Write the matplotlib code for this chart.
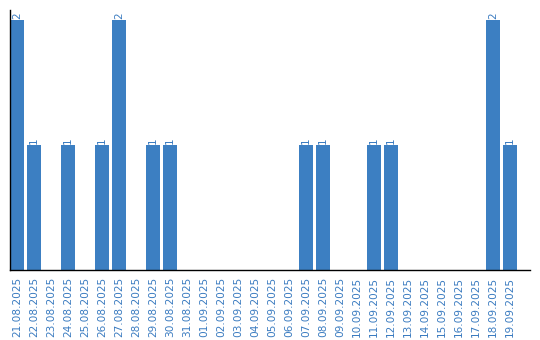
import matplotlib
matplotlib.use("Agg")
import matplotlib.pyplot as plt

dates = ["21.08.2025","22.08.2025","23.08.2025","24.08.2025","25.08.2025","26.08.2025",
         "27.08.2025","28.08.2025","29.08.2025","30.08.2025","31.08.2025","01.09.2025",
         "02.09.2025","03.09.2025","04.09.2025","05.09.2025","06.09.2025","07.09.2025",
         "08.09.2025","09.09.2025","10.09.2025","11.09.2025","12.09.2025","13.09.2025",
         "14.09.2025","15.09.2025","16.09.2025","17.09.2025","18.09.2025","19.09.2025"]
counts = [2,1,0,1,0,1,2,0,1,1,0,0,0,0,0,0,0,1,1,0,0,1,1,0,0,0,0,0,2,1]

bar_color = "#3c7fc2"
text_color = "#3a7bc0"

fig = plt.figure(figsize=(5.4, 3.4), dpi=100)
ax = fig.add_axes([10/540, 70/340, 520/540, 260/340])
x = list(range(len(dates)))
ax.bar(x, counts, width=0.82, color=bar_color)
for xi, c in zip(x, counts):
    if c > 0:
        ax.text(xi, c + 0.005, str(c), rotation=90, ha="center", va="bottom",
                color=text_color, fontsize=7.5)
ax.set_xlim(-0.41, 30.18)
ax.set_ylim(0, 2.08)
ax.set_xticks(x)
ax.set_xticklabels(dates, rotation=90, color=text_color, fontsize=7.6)
ax.tick_params(axis="x", length=0, pad=5)
ax.set_yticks([])
ax.spines["top"].set_visible(False)
ax.spines["right"].set_visible(False)
ax.spines["left"].set_color("black")
ax.spines["bottom"].set_color("black")
ax.spines["left"].set_linewidth(1.0)
ax.spines["bottom"].set_linewidth(1.0)
fig.savefig("out.png", dpi=100)
